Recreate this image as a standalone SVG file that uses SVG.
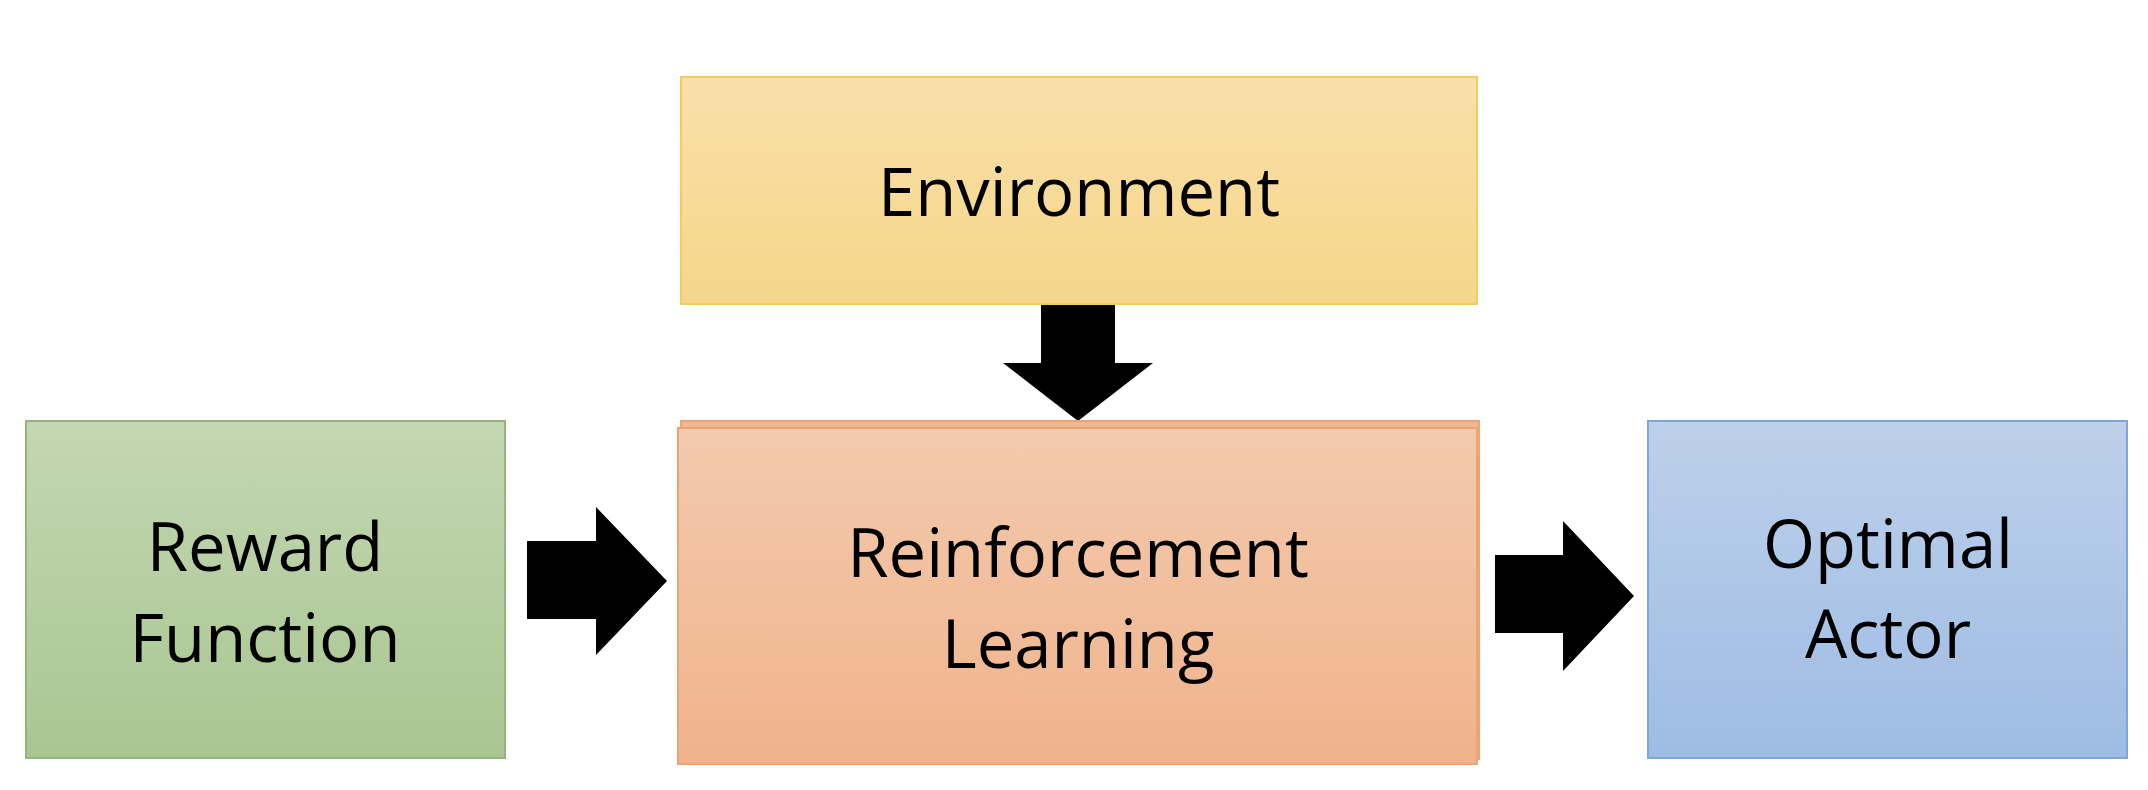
<svg xmlns="http://www.w3.org/2000/svg" width="2148" height="790" viewBox="0 0 2148 790">
<defs>
<linearGradient id="gEnv" x1="0" y1="0" x2="0" y2="1"><stop offset="0" stop-color="#f9e0a9"/><stop offset="1" stop-color="#f5d689"/></linearGradient>
<linearGradient id="gRew" x1="0" y1="0" x2="0" y2="1"><stop offset="0" stop-color="#c3d7b2"/><stop offset="1" stop-color="#a9c691"/></linearGradient>
<linearGradient id="gRL" x1="0" y1="0" x2="0" y2="1"><stop offset="0" stop-color="#f3caae"/><stop offset="1" stop-color="#f0b38b"/></linearGradient>
<linearGradient id="gOpt" x1="0" y1="0" x2="0" y2="1"><stop offset="0" stop-color="#bdd0ea"/><stop offset="1" stop-color="#9ebce4"/></linearGradient>
</defs>
<style>
text{font-family:"Open Sans","Noto Sans","Liberation Sans",sans-serif;font-size:67px;fill:#000;text-anchor:middle}
.box{stroke-width:2}
</style>
<rect width="2148" height="790" fill="#ffffff"/>
<g id="connectors" fill="#000">
<polygon points="1041,304 1115,304 1115,363 1153,363 1078,421 1003,363 1041,363"/>
<polygon points="527,541 596,541 596,507 667,581 596,655 596,619 527,619"/>
<polygon points="1495,555 1563,555 1563,521 1634,596 1563,671 1563,633 1495,633"/>
</g>
<g id="environment">
<rect class="box" x="681" y="77" width="796" height="227" fill="url(#gEnv)" stroke="#f2cc62"/>
<text x="1079" y="216">Environment</text>
</g>
<g id="reward">
<rect class="box" x="26" y="421" width="479" height="337" fill="url(#gRew)" stroke="#93b67e"/>
<text x="265" y="571">Reward</text>
<text x="265" y="662">Function</text>
</g>
<g id="rl">
<rect class="box" x="681" y="421" width="798" height="338" fill="#f0b890" stroke="#eba474"/>
<rect class="box" x="678" y="428" width="799" height="336" fill="url(#gRL)" stroke="#eba474"/>
<text x="1078" y="577">Reinforcement</text>
<text x="1078" y="668">Learning</text>
</g>
<g id="optimal">
<rect class="box" x="1648" y="421" width="479" height="337" fill="url(#gOpt)" stroke="#7ea6d8"/>
<text x="1888" y="568">Optimal</text>
<text x="1888" y="658">Actor</text>
</g>
</svg>
